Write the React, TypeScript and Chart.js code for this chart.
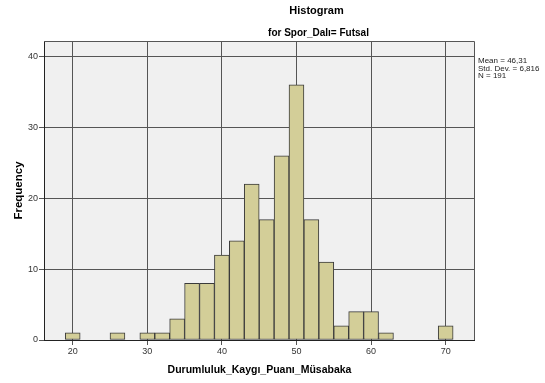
import { useEffect, useRef } from "react";
import { Chart, registerables } from "chart.js";
Chart.register(...registerables);

const binCenters = [20, 26, 30, 32, 34, 36, 38, 40, 42, 44, 46, 48, 50, 52, 54, 56, 58, 60, 62, 70];
const frequencies = [1, 1, 1, 1, 3, 8, 8, 12, 14, 22, 17, 26, 36, 17, 11, 2, 4, 4, 1, 2];
const xTickValues = [20, 30, 40, 50, 60, 70];
const yTickValues = [0, 10, 20, 30, 40];
const statsLines = ["Mean = 46,31", "Std. Dev. = 6,816", "N = 191"];
const titleText = "Histogram";
const subtitleText = "for Spor_Dalı= Futsal";
const xTitle = "Durumluluk_Kaygı_Puanı_Müsabaka";
const yTitle = "Frequency";

const FONT = "'Liberation Sans', Arial, sans-serif";

export default function App() {
  const ref = useRef<HTMLCanvasElement | null>(null);

  useEffect(() => {
    document.body.style.margin = "0";
    const canvas = ref.current;
    if (!canvas) return;

    const decor = {
      id: "decor",
      beforeDraw(chart: any) {
        const { ctx, chartArea: a } = chart;
        ctx.save();
        ctx.fillStyle = "#ffffff";
        ctx.fillRect(0, 0, chart.width, chart.height);
        ctx.fillStyle = "#f0f0f0";
        ctx.fillRect(a.left, a.top, a.right - a.left, a.bottom - a.top);
        ctx.restore();
      },
      afterDraw(chart: any) {
        const { ctx, chartArea: a } = chart;
        ctx.save();
        ctx.strokeStyle = "#555555";
        ctx.lineWidth = 1;
        ctx.beginPath();
        ctx.moveTo(a.left, a.top + 0.5);
        ctx.lineTo(a.right + 0.5, a.top + 0.5);
        ctx.lineTo(a.right + 0.5, a.bottom);
        ctx.stroke();

        ctx.fillStyle = "#000000";
        ctx.textAlign = "center";
        ctx.textBaseline = "middle";
        ctx.font = `bold 11px ${FONT}`;
        ctx.fillText(titleText, 316.5, 11);
        ctx.font = `bold 10px ${FONT}`;
        ctx.fillText(subtitleText, 318.5, 33);

        ctx.font = `bold 10.5px ${FONT}`;
        ctx.fillText(xTitle, 259.5, 370);

        ctx.save();
        ctx.translate(19, (a.top + a.bottom) / 2);
        ctx.rotate(-Math.PI / 2);
        ctx.font = `bold 11.5px ${FONT}`;
        ctx.fillText(yTitle, 0, 0);
        ctx.restore();

        ctx.textAlign = "left";
        ctx.font = `8px ${FONT}`;
        ctx.fillStyle = "#222222";
        statsLines.forEach((s, i) => ctx.fillText(s, 478, 61 + i * 7.5));
        ctx.restore();
      },
    };

    const chart = new Chart(canvas, {
      type: "bar",
      data: {
        datasets: [
          {
            data: binCenters.map((x, i) => ({ x, y: frequencies[i] })),
            backgroundColor: "#d3ce98",
            borderColor: "#3a3a3a",
            borderWidth: 1,
            borderSkipped: false,
            barPercentage: 1,
            categoryPercentage: 1,
            grouped: false,
          } as any,
        ],
      },
      options: {
        responsive: false,
        animation: false,
        events: [],
        layout: { padding: { top: 41, right: 71, bottom: 0, left: 0 } },
        plugins: { legend: { display: false }, tooltip: { enabled: false }, title: { display: false } },
        scales: {
          x: {
            type: "linear",
            offset: false,
            min: 16.15,
            max: 73.8,
            afterBuildTicks: (s: any) => {
              s.ticks = xTickValues.map((v) => ({ value: v }));
            },
            afterFit: (s: any) => {
              s.height = 43;
            },
            grid: { offset: false, color: "#555555", lineWidth: 1, tickLength: 5, drawOnChartArea: true },
            border: { display: true, color: "#222222" },
            ticks: { font: { family: FONT, size: 9 }, color: "#333333", padding: 1, maxRotation: 0, autoSkip: false },
          },
          y: {
            type: "linear",
            min: 0,
            max: 42.2,
            afterBuildTicks: (s: any) => {
              s.ticks = yTickValues.map((v) => ({ value: v }));
            },
            afterFit: (s: any) => {
              s.width = 44;
            },
            grid: { color: "#555555", lineWidth: 1, tickLength: 5, drawOnChartArea: true },
            border: { display: true, color: "#222222" },
            ticks: { font: { family: FONT, size: 9 }, color: "#333333", padding: 1, autoSkip: false },
          },
        },
      },
      plugins: [decor],
    });
    return () => chart.destroy();
  }, []);

  return <canvas ref={ref} width={545} height={383} style={{ display: "block" }} />;
}
